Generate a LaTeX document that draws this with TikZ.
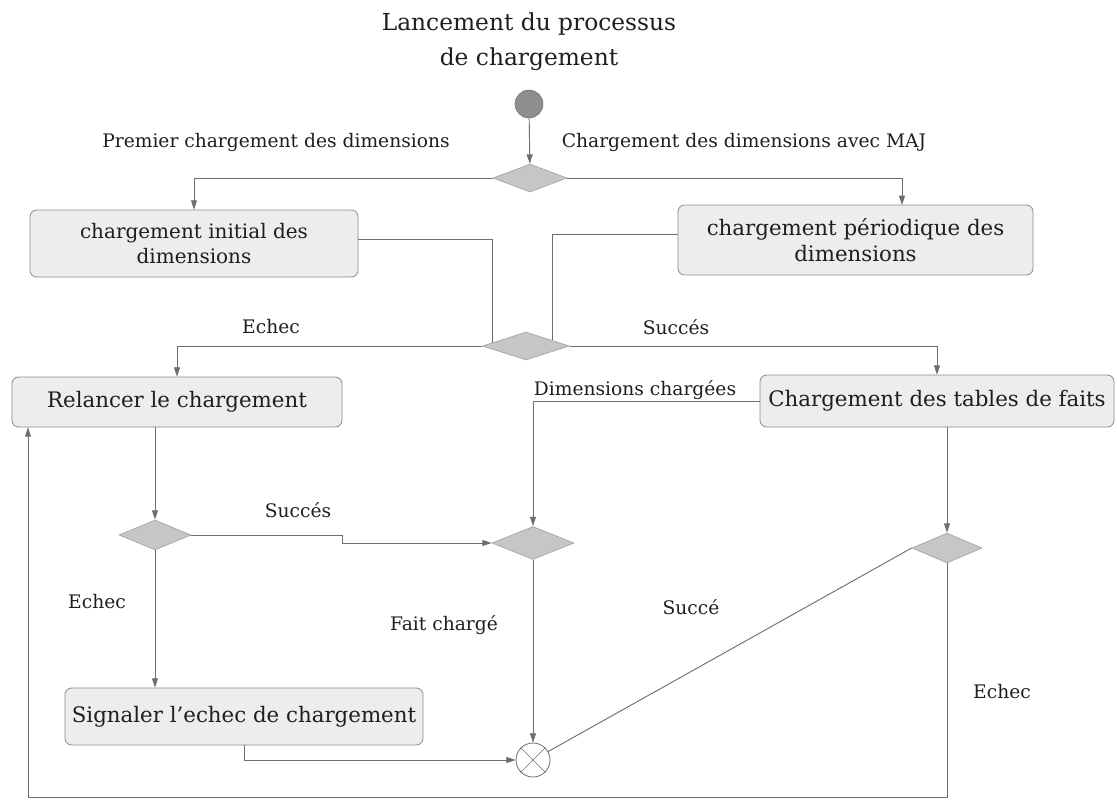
\documentclass[tikz,border=0pt]{standalone}
\usepackage{fontspec}
\setmainfont{DejaVu Serif}
\usetikzlibrary{shapes.geometric,arrows.meta}

\definecolor{linegray}{HTML}{6E6E6E}
\definecolor{boxfill}{HTML}{EDEDED}
\definecolor{boxedge}{HTML}{8A8A8A}
\definecolor{diafill}{HTML}{C6C6C6}
\definecolor{diaedge}{HTML}{A4A4A4}
\definecolor{startfill}{HTML}{8E8E8E}
\definecolor{textdark}{HTML}{1E1E1E}

\begin{document}
\begin{tikzpicture}[x=0.75pt, y=-0.75pt,
  conn/.style={draw=linegray, line width=0.7pt},
  arr/.style={conn, -{Triangle[length=7pt, width=4.5pt]}},
  activity/.style={draw=boxedge, fill=boxfill, rounded corners=5pt, line width=0.6pt,
    inner sep=0pt, align=center, text=textdark, font=\fontsize{16}{19}\selectfont},
  decision/.style={diamond, draw=diaedge, fill=diafill, line width=0.5pt, inner sep=0pt},
  lbl/.style={inner sep=0pt, text=textdark, font=\fontsize{14}{16}\selectfont},
]
\useasboundingbox (0,0) rectangle (1117,800);

% title
\node[align=center, text=textdark, font=\fontsize{17.5}{26}\selectfont] (title) at (529,42)
  {Lancement du processus\\de chargement};

% initial node and first decision
\node[circle, fill=startfill, draw=startfill!80!black, line width=0.4pt,
      minimum size=21pt, inner sep=0pt] (init) at (529,104) {};
\node[decision, minimum width=55.5pt, minimum height=21pt] (d1) at (530,178) {};

% dimension loading activities
\node[activity, minimum width=246pt, minimum height=50.25pt,
      font=\fontsize{15}{19}\selectfont] (box1) at (194,243.5)
  {chargement initial des\\dimensions};
\node[activity, minimum width=266.25pt, minimum height=52.5pt] (box2) at (855.5,240)
  {chargement périodique des\\dimensions};
\coordinate (b2in) at (902,205);

\node[decision, minimum width=65.25pt, minimum height=21pt] (d2) at (526,346) {};

\node[activity, minimum width=247.5pt, minimum height=37.5pt] (box3) at (177,402)
  {Relancer le chargement};
\node[activity, minimum width=265.5pt, minimum height=39pt] (box4) at (937,401)
  {Chargement des tables de faits};

\node[decision, minimum width=61.5pt, minimum height=24.75pt] (d3) at (533,543) {};
\node[decision, minimum width=54pt, minimum height=22.5pt] (d4) at (155,535) {};
\node[decision, minimum width=52.5pt, minimum height=22.5pt] (d5) at (947,548) {};

\node[activity, minimum width=268.5pt, minimum height=42.75pt] (box5) at (244,716.5)
  {Signaler l'echec de chargement};

% merge node
\node[circle, draw=linegray, fill=white, line width=0.6pt, minimum size=25.5pt,
      inner sep=0pt] (merge) at (533,760) {};
\draw[linegray, line width=0.5pt] (merge.45) -- (merge.225) (merge.135) -- (merge.315);

\coordinate (loop) at (28,797);

% connectors
\draw[arr] (init) -- (d1);
\draw[arr] (d1.west) -| (box1.north);
\draw[arr] (d1.east) -| (b2in);
\draw[conn] ([yshift=3.4pt]box1.east) -| (d2.174);
\draw[conn] ([yshift=4.5pt]box2.west) -| (d2.12);
\draw[arr] (d2.west) -| (box3.north);
\draw[arr] (d2.east) -| (box4.north);
\draw[arr] (box4.west) -| (d3.north);
\draw[arr] (box3.south -| d4.north) -- (d4.north);
\draw[arr] (d4.east) -- (d4.east -| box3.east) |- (d3.west);
\draw[arr] (d4.south) -- (d4.south |- box5.north);
\draw[arr] (d3.south) -- (merge.north);
\draw[arr] (box5.south) |- (merge.west);
\draw[conn] (merge) -- (d5.west);
\draw[arr] (box4.south -| d5.north) -- (d5.north);
\draw[arr] (d5.south) |- (loop) -- (loop |- box3.south);

% guard labels
\node[lbl] (lfirst) at (276,142) {Premier chargement des dimensions};
\node[lbl] (lmaj) at (744,142) {Chargement des dimensions avec MAJ};
\node[lbl] (lechec1) at (271,327) {Echec};
\node[lbl] (lsucces1) at (676,327) {Succés};
\node[lbl] (ldim) at (635,390) {Dimensions chargées};
\node[lbl] (lsucces2) at (298,510) {Succés};
\node[lbl] (lechec2) at (97,602) {Echec};
\node[lbl] (lfait) at (444,625) {Fait chargé};
\node[lbl] (lsucce) at (691,607) {Succé};
\node[lbl] (lechec3) at (1002,692) {Echec};
\end{tikzpicture}
\end{document}
